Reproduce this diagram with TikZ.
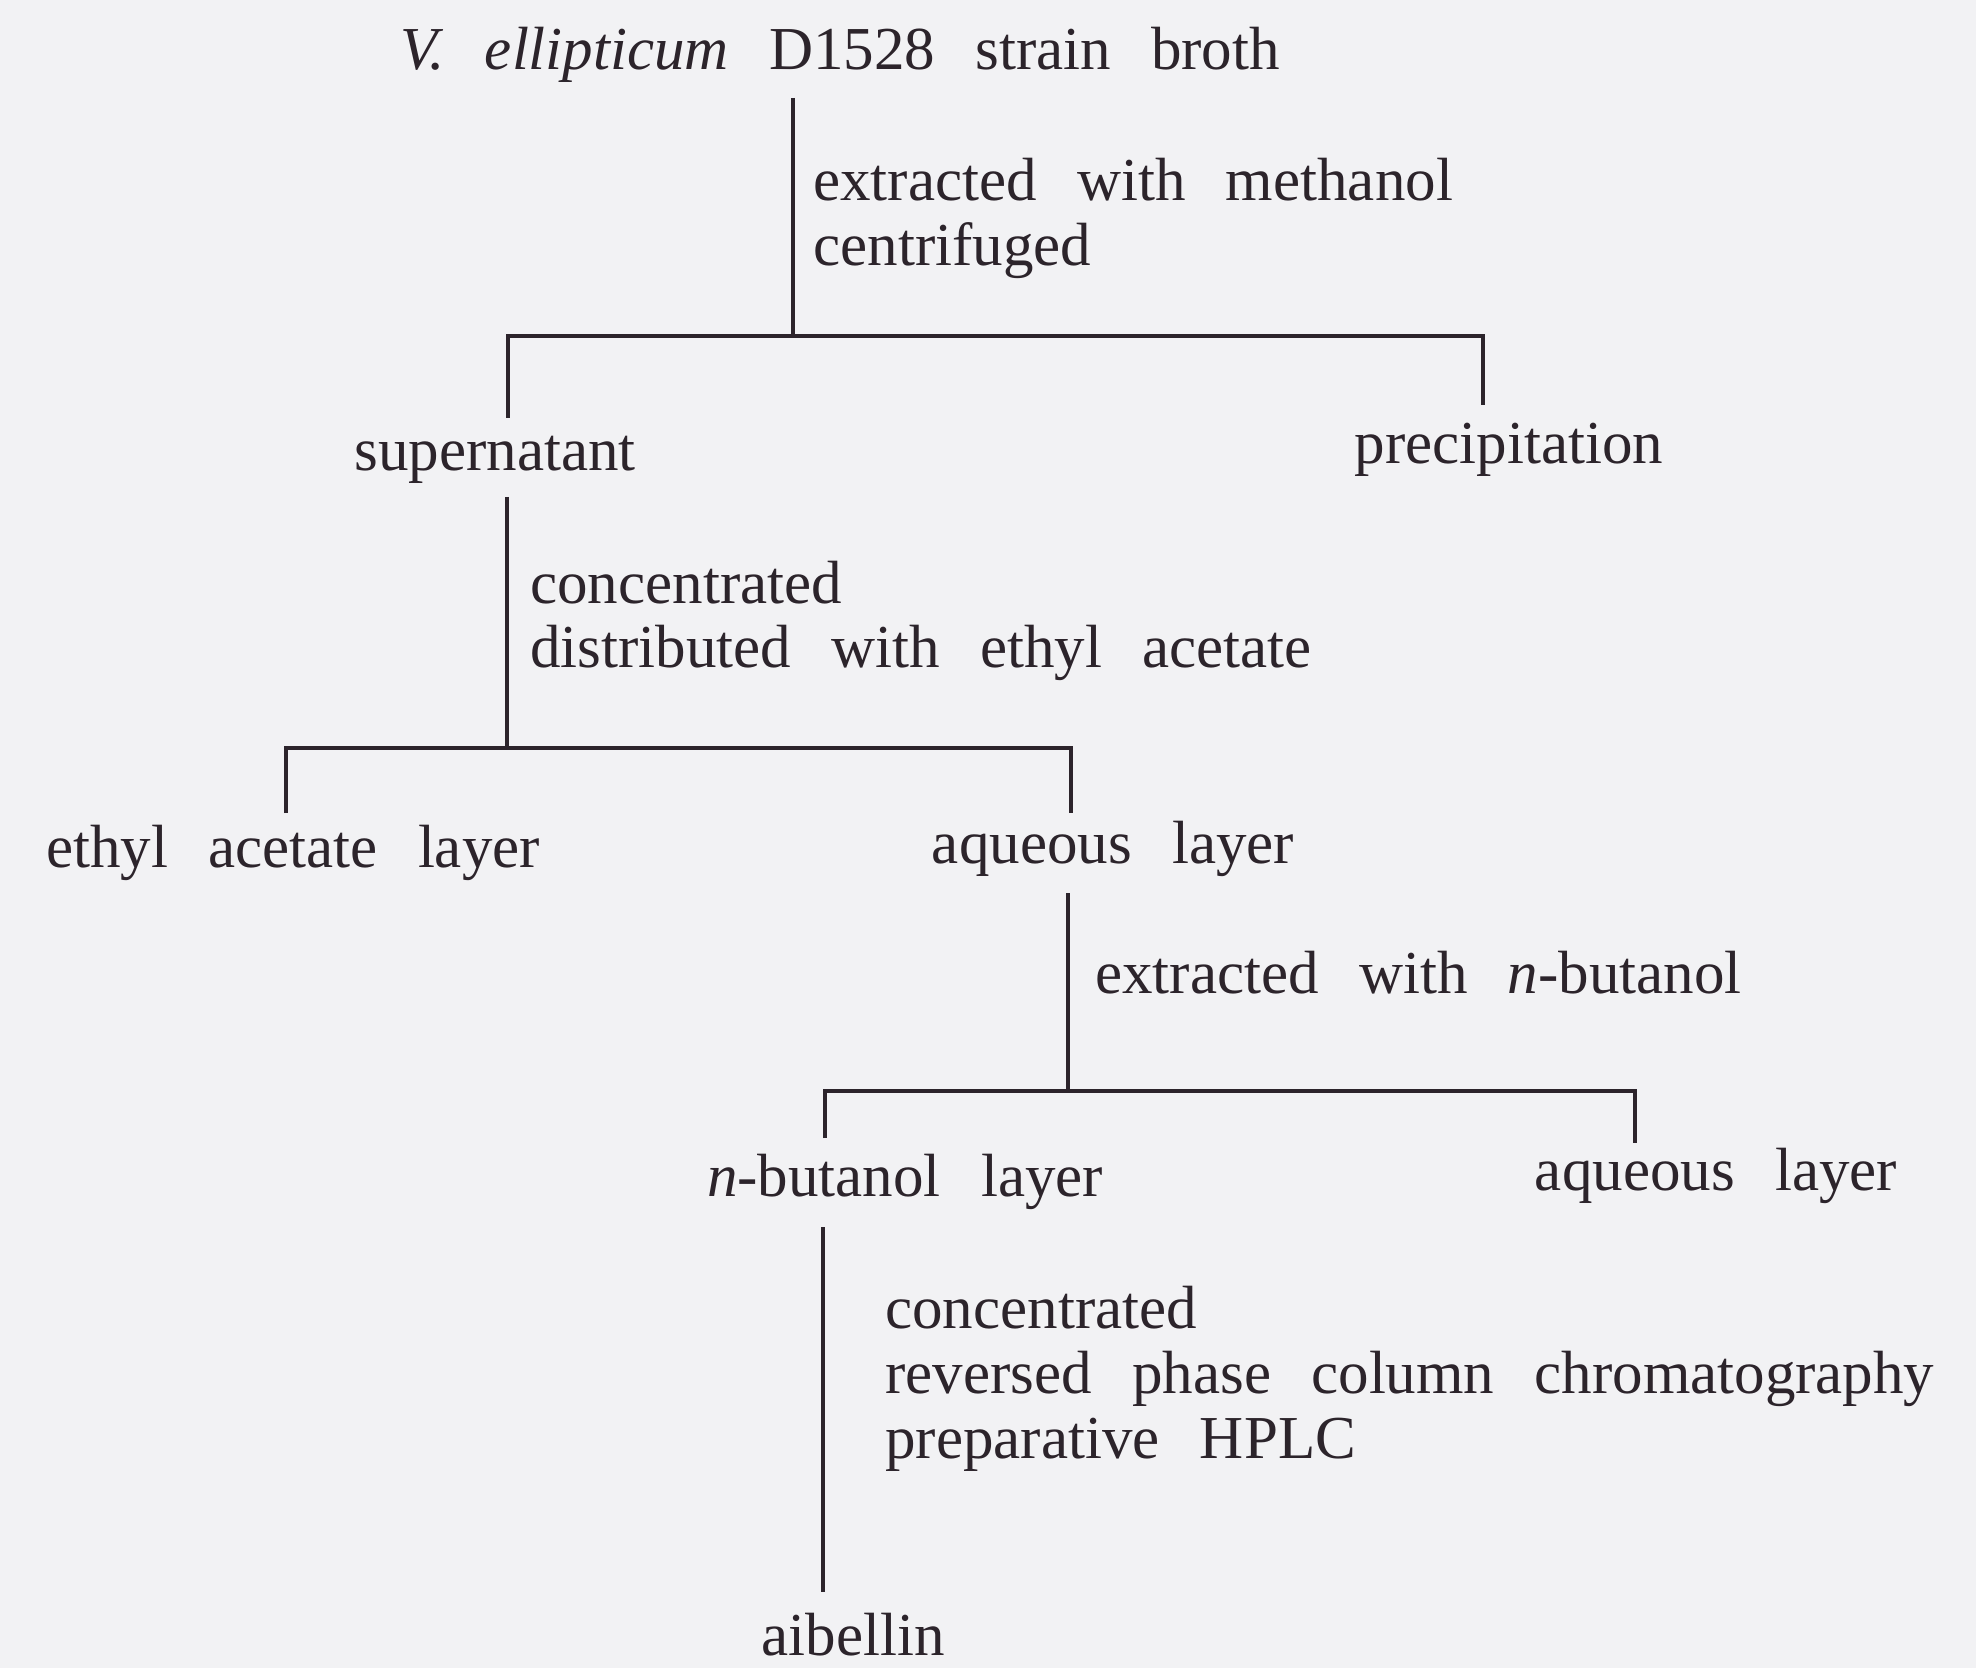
\documentclass[tikz,border=0pt]{standalone}
\usepackage{fontspec}
\setmainfont[WordSpace=2.64]{Liberation Serif}
\definecolor{ink}{HTML}{2C242B}
\definecolor{paper}{HTML}{F2F2F4}
\begin{document}
\begin{tikzpicture}[x=0.5pt,y=-0.5pt,
  lbl/.style={inner sep=0pt, text=ink, font=\fontsize{30.5}{36}\selectfont},
  conn/.style={draw=ink, line width=2.2pt, line join=miter}]
\fill[paper] (0,0) rectangle (1976,1668);
\useasboundingbox (0,0) rectangle (1976,1668);

% texts
\node[lbl, anchor=base] (broth) at (840,70) {\textit{V.\ ellipticum} D1528 strain broth};
\node[lbl, anchor=base west] (m1) at (813,201) {extracted with methanol};
\node[lbl, anchor=base west] (m2) at (813,266) {centrifuged};
\node[lbl, anchor=base] (sup) at (495,471) {supernatant};
\node[lbl, anchor=base] (prec) at (1509,464) {precipitation};
\node[lbl, anchor=base west] (c1) at (530,604) {concentrated};
\node[lbl, anchor=base west] (c2) at (530,668) {distributed with ethyl acetate};
\node[lbl, anchor=base] (eal) at (293,867) {ethyl acetate layer};
\node[lbl, anchor=base] (aq1) at (1113,863) {aqueous layer};
\node[lbl, anchor=base west] (b1) at (1095,993) {extracted with \textit{n}-butanol};
\node[lbl, anchor=base] (nbl) at (905,1196) {\textit{n}-butanol layer};
\node[lbl, anchor=base] (aq2) at (1716,1190) {aqueous layer};
\node[lbl, anchor=base west] (p1) at (885,1328) {concentrated};
\node[lbl, anchor=base west] (p2) at (885,1393) {reversed phase column chromatography};
\node[lbl, anchor=base west] (p3) at (885,1458) {preparative HPLC};
\node[lbl, anchor=base] (aib) at (853,1655) {aibellin};

% connector points
\coordinate (v1a) at (793,98);
\coordinate (j1) at (793,336);
\coordinate (h1l) at (508,336);
\coordinate (h1r) at (1483,336);
\coordinate (d1l) at (508,418);
\coordinate (d1r) at (1483,405);

\coordinate (v2a) at (507,497);
\coordinate (j2) at (507,748);
\coordinate (h2l) at (286,748);
\coordinate (h2r) at (1071,748);
\coordinate (d2l) at (286,813);
\coordinate (d2r) at (1071,813);

\coordinate (v3a) at (1068,893);
\coordinate (j3) at (1068,1091);
\coordinate (h3l) at (825,1091);
\coordinate (h3r) at (1635,1091);
\coordinate (d3l) at (825,1138);
\coordinate (d3r) at (1635,1143);

\coordinate (v4a) at (823,1227);
\coordinate (v4b) at (823,1592);

% connectors
\draw[conn] (v1a) -- (j1);
\draw[conn] (d1l) -- (h1l) -- (h1r) -- (d1r);
\draw[conn] (v2a) -- (j2);
\draw[conn] (d2l) -- (h2l) -- (h2r) -- (d2r);
\draw[conn] (v3a) -- (j3);
\draw[conn] (d3l) -- (h3l) -- (h3r) -- (d3r);
\draw[conn] (v4a) -- (v4b);
\end{tikzpicture}
\end{document}
